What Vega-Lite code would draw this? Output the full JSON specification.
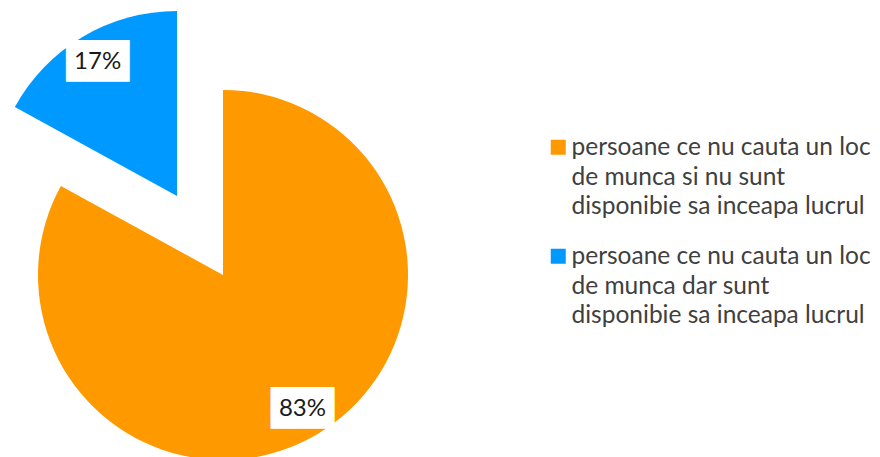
{
  "$schema": "https://vega.github.io/schema/vega-lite/v6.json",
  "width": 446,
  "height": 550,
  "padding": {"left": 0, "top": 0, "right": 434, "bottom": 0},
  "autosize": "none",
  "background": "white",
  "config": {"view": {"stroke": null}, "style": {"guide-label": {"lineHeight": 29.5, "dy": -11}}},
  "data": {
    "values": [
      {"category": "persoane ce nu cauta un loc de munca si nu sunt disponibie sa inceapa lucrul", "share": 83, "label": "83%", "order": 1},
      {"category": "persoane ce nu cauta un loc de munca dar sunt disponibie sa inceapa lucrul", "share": 17, "label": "17%", "order": 2}
    ]
  },
  "encoding": {
    "theta": {"field": "share", "type": "quantitative", "stack": true},
    "order": {"field": "order", "type": "quantitative"}
  },
  "layer": [
    {
      "mark": {"type": "arc", "outerRadius": 185},
      "encoding": {
        "color": {
          "field": "category",
          "type": "nominal",
          "sort": null,
          "scale": {
            "domain": [
              "persoane ce nu cauta un loc de munca si nu sunt disponibie sa inceapa lucrul",
              "persoane ce nu cauta un loc de munca dar sunt disponibie sa inceapa lucrul"
            ],
            "range": ["#FF9900", "#0099FF"]
          },
          "legend": {
            "title": null,
            "orient": "none",
            "legendX": 546,
            "legendY": 135,
            "padding": 0,
            "symbolType": "square",
            "symbolSize": 225,
            "symbolStrokeWidth": 0,
            "labelFont": "Lato",
            "labelFontSize": 24.5,
            "labelBaseline": "top",
            "labelColor": "#404040",
            "labelLimit": 500,
            "labelOffset": 1,
            "rowPadding": 25,
            "labelExpr": "indexof(datum.label, 'si nu') >= 0 ? ['persoane ce nu cauta un loc', 'de munca si nu sunt', 'disponibie sa inceapa lucrul'] : ['persoane ce nu cauta un loc', 'de munca dar sunt', 'disponibie sa inceapa lucrul']"
          }
        },
        "opacity": {"condition": {"test": "datum.order == 1", "value": 1}, "value": 0}
      }
    },
    {
      "mark": {"type": "arc", "outerRadius": 185, "xOffset": -46, "yOffset": -79},
      "encoding": {
        "color": {"field": "category", "type": "nominal", "legend": null},
        "opacity": {"condition": {"test": "datum.order == 2", "value": 1}, "value": 0}
      }
    },
    {
      "mark": {"type": "text", "radius": 156, "text": "███", "font": "DejaVu Sans Mono", "fontSize": 35, "color": "white"},
      "encoding": {
        "opacity": {"condition": {"test": "datum.order == 1", "value": 1}, "value": 0}
      }
    },
    {
      "mark": {"type": "text", "radius": 156, "text": "███", "font": "DejaVu Sans Mono", "fontSize": 35, "color": "white", "xOffset": -46, "yOffset": -79},
      "encoding": {
        "opacity": {"condition": {"test": "datum.order == 2", "value": 1}, "value": 0}
      }
    },
    {
      "mark": {"type": "text", "radius": 156, "font": "Lato", "fontSize": 24, "color": "#1a1a1a"},
      "encoding": {
        "text": {"field": "label", "type": "nominal"},
        "opacity": {"condition": {"test": "datum.order == 1", "value": 1}, "value": 0}
      }
    },
    {
      "mark": {"type": "text", "radius": 156, "font": "Lato", "fontSize": 24, "color": "#1a1a1a", "xOffset": -46, "yOffset": -79},
      "encoding": {
        "text": {"field": "label", "type": "nominal"},
        "opacity": {"condition": {"test": "datum.order == 2", "value": 1}, "value": 0}
      }
    }
  ]
}
